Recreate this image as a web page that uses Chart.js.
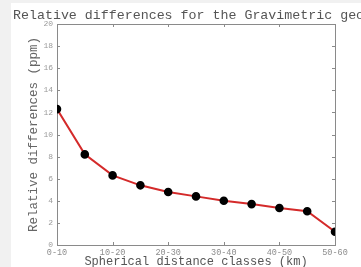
<!DOCTYPE html>
<html>
<head>
<meta charset="utf-8">
<script src="https://cdn.jsdelivr.net/npm/chart.js@4/dist/chart.umd.min.js"></script>
<style>
  html, body { margin: 0; padding: 0; background: #f1f1f1; overflow: hidden; width: 361px; height: 267px; }
  #sheet { position: absolute; left: 11px; top: 3px; width: 350px; height: 264px; background: #fff; overflow: hidden; }
  #sheet canvas { position: absolute; left: 0; top: 0; }
  #title { position: absolute; left: 13px; top: 8px; font: 13.3px/15px "Liberation Mono", monospace; color: #555; white-space: nowrap; }
</style>
</head>
<body>
<div id="sheet"><canvas id="chart" width="350" height="270"></canvas></div>
<div id="title">Relative differences for the Gravimetric geo</div>
<script>
// Data
const xPos = [0, 5, 10, 15, 20, 25, 30, 35, 40, 45, 50];
const relDiff = [12.3, 8.2, 6.3, 5.4, 4.8, 4.4, 4.0, 3.7, 3.35, 3.05, 1.2];
const xLabels = ['0-10', '10-20', '20-30', '30-40', '40-50', '50-60'];
const yTicks = [0, 2, 4, 6, 8, 10, 12, 14, 16, 18, 20];

const mono = '"Liberation Mono", monospace';
const frameColor = '#8a8a8a';

// box around the plot + small inward tick marks
const frame = {
    id: 'frame',
    beforeDatasetsDraw(chart) {
        const { ctx, chartArea: a, scales: { x, y } } = chart;
        ctx.save();
        ctx.strokeStyle = frameColor;
        ctx.lineWidth = 1;
        ctx.strokeRect(a.left + 0.5, a.top + 0.5, a.right - a.left, a.bottom - a.top);
        ctx.beginPath();
        yTicks.forEach(v => {
            const py = Math.round(y.getPixelForValue(v)) + 0.5;
            ctx.moveTo(a.left, py); ctx.lineTo(a.left + 3, py);
            ctx.moveTo(a.right, py); ctx.lineTo(a.right - 3, py);
        });
        xLabels.forEach((_, i) => {
            const px = Math.round(x.getPixelForValue(i * 10)) + 0.5;
            ctx.moveTo(px, a.top); ctx.lineTo(px, a.top + 3);
            ctx.moveTo(px, a.bottom); ctx.lineTo(px, a.bottom - 3);
        });
        ctx.stroke();
        ctx.restore();
    }
};

new Chart(document.getElementById('chart'), {
    type: 'line',
    data: {
        datasets: [{
            data: xPos.map((v, i) => ({ x: v, y: relDiff[i] })),
            borderColor: '#d42a2a',
            borderWidth: 2,
            pointBackgroundColor: '#000',
            pointBorderColor: '#000',
            pointRadius: 3.3,
            tension: 0
        }]
    },
    options: {
        responsive: false,
        animation: false,
        events: [],
        layout: { padding: { left: 2, right: 26, top: 21, bottom: 0 } },
        plugins: { legend: { display: false }, tooltip: { enabled: false } },
        scales: {
            x: {
                type: 'linear', min: 0, max: 50,
                afterFit: s => { s.height = 28; },
                grid: { display: false, drawTicks: false },
                border: { display: false },
                ticks: {
                    stepSize: 10, autoSkip: false, maxRotation: 0, padding: 3,
                    color: '#8c8c8c', font: { family: mono, size: 8.5 },
                    callback: v => xLabels[v / 10]
                },
                title: {
                    display: true, text: 'Spherical distance classes (km)',
                    color: '#555', font: { family: mono, size: 12 }, padding: { bottom: 4 }
                }
            },
            y: {
                min: 0, max: 20,
                afterFit: s => { s.width = 44; },
                afterBuildTicks: s => { s.ticks = yTicks.map(v => ({ value: v })); },
                grid: { display: false, drawTicks: false },
                border: { display: false },
                ticks: { padding: 4, color: '#9a9a9a', font: { family: mono, size: 8 } },
                title: {
                    display: true, text: 'Relative differences (ppm)',
                    color: '#666', font: { family: mono, size: 12.5 }, padding: { top: 13 }
                }
            }
        }
    },
    plugins: [frame]
});
</script>
</body>
</html>
